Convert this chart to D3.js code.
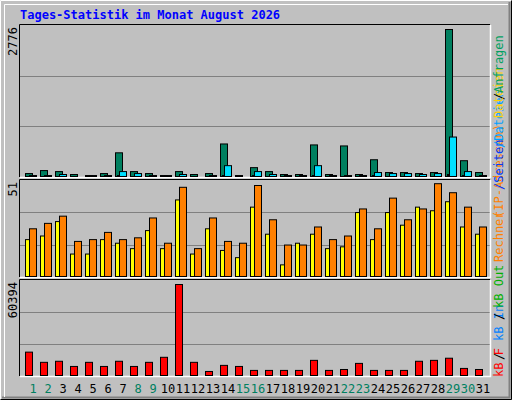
<!DOCTYPE html>
<html><head><meta charset="utf-8">
<script src="https://cdn.jsdelivr.net/npm/d3@7"></script>
<style>body{margin:0;background:#fff}svg{display:block}</style>
</head><body>
<script>
const days = d3.range(1,32);
const weekend = [1,2,8,9,15,16,22,23,29,30];
const hits  = [74,130,111,56,37,74,463,111,74,37,111,56,74,629,37,185,111,56,56,611,56,592,56,333,93,93,74,93,2776,315,93];
const pages = [18,18,18,10,18,18,37,18,18,18,18,10,18,37,10,37,18,18,18,37,18,18,18,37,18,18,18,18,56,37,18];
const files = [37,37,56,18,37,37,111,74,37,37,56,18,37,222,18,111,56,37,37,222,37,37,37,93,74,74,56,74,759,111,37];
const visits = [21,23,31,13,13,21,19,16,26,16,43,13,27,15,11,39,24,7,19,24,16,17,36,21,36,29,39,37,42,28,24];
const hosts  = [27,30,34,20,21,25,21,22,33,19,50,16,33,20,19,51,32,18,18,28,21,23,38,27,44,32,38,52,47,39,28];
const kbytes = [16000,9300,10000,6600,9300,6600,10000,6600,9300,12600,60394,9300,3300,7300,6600,4000,4000,4000,4000,10600,4000,4600,8600,4000,4000,4000,10000,10600,12000,5300,4600];
const maxHits = 2776, maxVisits = 51, maxKb = 60394;

const W=512,H=400;
const svg=d3.select("body").append("svg").attr("width",W).attr("height",H);
svg.append("rect").attr("width",W).attr("height",H).attr("fill","#c0c0c0");
svg.append("path").attr("d","M0.5,399.5V0.5H511.5").attr("stroke","#fff").attr("fill","none");
svg.append("path").attr("d","M0.5,399.5H511.5V0.5").attr("stroke","#000").attr("fill","none");
svg.append("path").attr("d","M2,397.5H509.5V2").attr("stroke","#808080").attr("fill","none").attr("stroke-width",2);
svg.append("path").attr("d","M4.5,397V4.5H508").attr("stroke","#fff").attr("fill","none");

svg.append("text").attr("x",20).attr("y",19).attr("fill","#0000ff")
  .attr("font-family","DejaVu Sans Mono").attr("font-weight","bold").attr("font-size",12)
  .text("Tages-Statistik im Monat August 2026");

const x=d3.scaleLinear().domain([1,31]).range([25,475]);
const X0=20,X1=490;
const panels=[{t:25,b:177,label:maxHits},{t:180,b:277,label:maxVisits},{t:280,b:376,label:maxKb}];
panels.forEach(p=>{
  const h=p.b-p.t;
  [1,2].forEach(i=>svg.append("line").attr("x1",X0).attr("x2",X1).attr("y1",Math.round(p.b-h*i/3)+.5).attr("y2",Math.round(p.b-h*i/3)+.5).attr("stroke","#808080"));
  svg.append("path").attr("d",`M${X0-.5},${p.b}V${p.t-.5}H${X1}`).attr("stroke","#000").attr("fill","none");
  svg.append("path").attr("d",`M${X0},${p.b+.5}H${X1+.5}V${p.t}`).attr("stroke","#fff").attr("fill","none").attr("stroke-width",1.5);
  svg.append("text").attr("transform",`translate(17,${p.t+2}) rotate(-90)`).attr("text-anchor","end")
   .attr("font-family","DejaVu Sans Mono").attr("font-size",12).text(p.label);
});

function bars(data,max,top,bottom,full,off,w,color){
  const y=d3.scaleLinear().domain([0,max]).range([bottom,top+(full)]);
  svg.append("g").selectAll("rect").data(data).join("rect")
   .attr("x",(d,i)=>x(days[i])+off+.5).attr("width",w-1)
   .attr("y",d=>y(d)+.5).attr("height",d=>Math.max(0,bottom-y(d)-1))
   .attr("fill",color).attr("stroke","#000");
}
bars(hits,maxHits,25,177,4,0,8,"#007f5f");
bars(files,maxHits,25,177,4,4,8,"#00e0ff");
bars(pages,maxHits,25,177,4,2,3,"#0040ff");
bars(visits,maxVisits,180,277,5,0,5,"#ffff00");
bars(hosts,maxVisits,180,277,5,4,8,"#ff8000");
bars(kbytes,maxKb,280,376,4,0,8,"#ff0000");

svg.append("g").selectAll("text").data(days).join("text")
 .attr("x",d=>x(d)+8).attr("y",393).attr("text-anchor","middle")
 .attr("font-family","DejaVu Sans Mono").attr("font-size",12)
 .attr("fill",d=>weekend.includes(d)?"#008060":"#000").text(d=>d);

const leg=[["kB F","#ff0000",377],["/","#000",360],["kB In","#0080ff",341],["/","#000",320],["kB Out","#00b000",308],
 ["Rechner","#ff8000",262],["(IP-Adressen)","#ff8000",218],["/Seiten","#0040ff",190],["/Dateien","#00a0ff",148],
 ["/","#000",100],["Dateien","#ffd000",118],["Anfragen","#00a060",93]];
leg.forEach(([t,c,y])=>svg.append("text").attr("transform",`translate(503,${y}) rotate(-90)`)
 .attr("font-family","DejaVu Sans Mono").attr("font-size",12).attr("fill",c).text(t));
</script>
</body></html>
